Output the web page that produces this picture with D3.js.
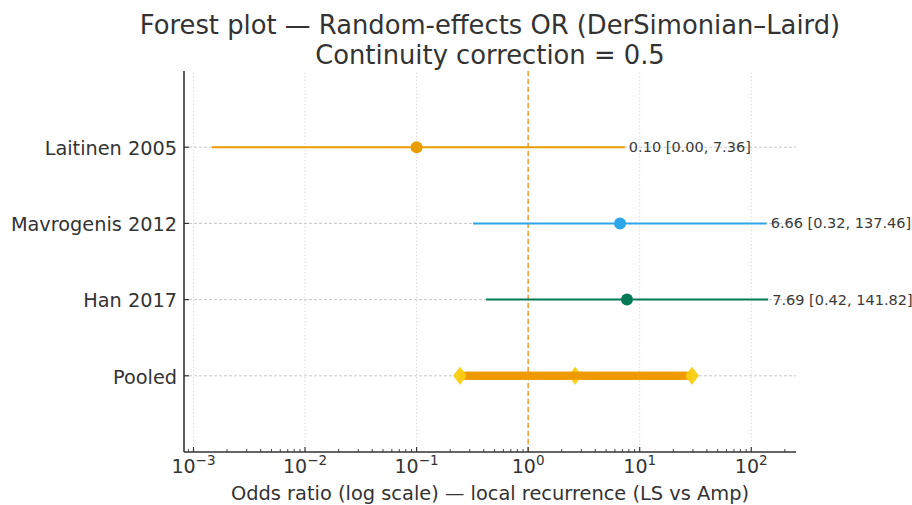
<!DOCTYPE html>
<html>
<head>
<meta charset="utf-8">
<script src="https://cdn.jsdelivr.net/npm/d3@7"></script>
<style>
  html, body { margin: 0; padding: 0; background: #fff; }
  svg { display: block; font-family: "DejaVu Sans", sans-serif; }
</style>
</head>
<body>
<svg id="chart" width="912" height="505"></svg>
<script>
// ---- Data ----
const studies = ["Laitinen 2005", "Mavrogenis 2012", "Han 2017"];
const oddsRatios = [0.10, 6.66, 7.69];
const ciLower = [0.00146, 0.32, 0.42];
const ciUpper = [7.36, 137.46, 141.82];
const studyColors = ["#E99E00", "#2CA6E8", "#007A55"];
const pooledLabel = "Pooled";
const pooledOR = [2.64];
const pooledLower = [0.245];
const pooledUpper = [29.4];
const xTickExponents = [-3, -2, -1, 0, 1, 2];
const titleLines = ["Forest plot \u2014 Random-effects OR (DerSimonian\u2013Laird)", "Continuity correction = 0.5"];
const xAxisLabel = "Odds ratio (log scale) \u2014 local recurrence (LS vs Amp)";

// ---- Layout ----
const W = 912, H = 505;
const m = { left: 184, right: 912 - 796, top: 71, bottom: 505 - 452 };
const svg = d3.select("#chart");
const g = svg.append("g");

// domain: data range with 5% margin in log space
const allLo = ciLower.concat(pooledLower), allHi = ciUpper.concat(pooledUpper);
const lmin = Math.log10(d3.min(allLo)), lmax = Math.log10(d3.max(allHi));
const pad = (lmax - lmin) * 0.05;
const x = d3.scaleLog()
  .domain([Math.pow(10, lmin - pad), Math.pow(10, lmax + pad)])
  .range([m.left, W - m.right]);

const rowLabels = studies.concat([pooledLabel]);
const nRows = rowLabels.length;
const y = d3.scaleLinear().domain([-1, nRows]).range([H - m.bottom, m.top]);
const rowY = (i) => y(nRows - 1 - i);

// ---- Grid ----
g.selectAll(".vgrid").data(xTickExponents).enter().append("line")
  .attr("x1", d => x(Math.pow(10, d))).attr("x2", d => x(Math.pow(10, d)))
  .attr("y1", y(-1)).attr("y2", y(nRows))
  .attr("stroke", "#dcdcdc").attr("stroke-width", 1).attr("stroke-dasharray", "1.5,2");
g.selectAll(".hgrid").data(rowLabels).enter().append("line")
  .attr("x1", m.left).attr("x2", W - m.right)
  .attr("y1", (d, i) => rowY(i)).attr("y2", (d, i) => rowY(i))
  .attr("stroke", "#c8c8c8").attr("stroke-width", 1).attr("stroke-dasharray", "3,2");

// ---- Reference line at OR = 1 ----
g.append("line")
  .attr("x1", x(1)).attr("x2", x(1)).attr("y1", y(-1)).attr("y2", y(nRows))
  .attr("stroke", "#F0A030").attr("stroke-width", 1.5).attr("stroke-dasharray", "5,3");

// ---- Study CIs ----
studies.forEach((s, i) => {
  const yy = rowY(i);
  g.append("line")
    .attr("x1", x(ciLower[i])).attr("x2", x(ciUpper[i]))
    .attr("y1", yy).attr("y2", yy)
    .attr("stroke", studyColors[i]).attr("stroke-width", 2);
  g.append("circle")
    .attr("cx", x(oddsRatios[i])).attr("cy", yy).attr("r", 6)
    .attr("fill", studyColors[i]);
  g.append("text")
    .attr("x", x(ciUpper[i]) + 4).attr("y", yy).attr("dy", "0.35em")
    .attr("font-size", 14.5).attr("fill", "#3a3a3a")
    .text(`${oddsRatios[i].toFixed(2)} [${ciLower[i].toFixed(2)}, ${ciUpper[i].toFixed(2)}]`);
});

// ---- Pooled ----
const py = rowY(nRows - 1);
g.append("line")
  .attr("x1", x(pooledLower[0])).attr("x2", x(pooledUpper[0]))
  .attr("y1", py).attr("y2", py)
  .attr("stroke", "#EE9A00").attr("stroke-width", 8);
const diamond = (cx, cy) => `M${cx - 7},${cy} L${cx},${cy - 9} L${cx + 7},${cy} L${cx},${cy + 9} Z`;
[pooledLower[0], pooledOR[0], pooledUpper[0]].forEach(v => {
  g.append("path").attr("d", diamond(x(v), py)).attr("fill", "#F8CE12").attr("opacity", 0.95);
});
g.append("line")
  .attr("x1", x(pooledLower[0]) + 6).attr("x2", x(pooledUpper[0]) - 6)
  .attr("y1", py).attr("y2", py)
  .attr("stroke", "#EE9A00").attr("stroke-width", 8);

// ---- Axes ----
const xAxis = d3.axisBottom(x)
  .tickValues(xTickExponents.map(e => Math.pow(10, e)))
  .tickSize(0).tickFormat("");
const xg = g.append("g").attr("transform", `translate(0,${H - m.bottom})`).call(xAxis);
xg.select(".domain").remove();
xTickExponents.forEach(e => {
  const xx = x(Math.pow(10, e));
  g.append("line").attr("x1", xx).attr("x2", xx).attr("y1", H - m.bottom).attr("y2", H - m.bottom - 5)
    .attr("stroke", "#333").attr("stroke-width", 1.2);
  const t = g.append("text").attr("x", xx).attr("y", 473).attr("text-anchor", "middle")
    .attr("font-size", 19).attr("fill", "#333");
  t.append("tspan").text("10");
  t.append("tspan").attr("dy", -8).attr("font-size", 13.5).text(e < 0 ? "\u2212" + (-e) : String(e));
});
const [d0, d1] = x.domain();
for (let e = Math.floor(Math.log10(d0)); e <= Math.ceil(Math.log10(d1)); e++) {
  for (let k = 2; k <= 9; k++) {
    const v = k * Math.pow(10, e);
    if (v < d0 || v > d1) continue;
    g.append("line").attr("x1", x(v)).attr("x2", x(v))
      .attr("y1", H - m.bottom).attr("y2", H - m.bottom - 3)
      .attr("stroke", "#333").attr("stroke-width", 0.9);
  }
}
rowLabels.forEach((lab, i) => {
  const yy = rowY(i);
  g.append("line").attr("x1", m.left).attr("x2", m.left + 5).attr("y1", yy).attr("y2", yy)
    .attr("stroke", "#333").attr("stroke-width", 1.2);
  g.append("text").attr("x", 177).attr("y", yy + 1).attr("dy", "0.35em").attr("text-anchor", "end")
    .attr("font-size", 19.3).attr("fill", "#333").text(lab);
});
g.append("line").attr("x1", m.left).attr("x2", m.left).attr("y1", m.top).attr("y2", H - m.bottom)
  .attr("stroke", "#333").attr("stroke-width", 1.6);
g.append("line").attr("x1", m.left).attr("x2", W - m.right).attr("y1", H - m.bottom).attr("y2", H - m.bottom)
  .attr("stroke", "#333").attr("stroke-width", 1.6);

// axis label
g.append("text").attr("x", (m.left + W - m.right) / 2).attr("y", 500).attr("text-anchor", "middle")
  .attr("font-size", 19.4).attr("fill", "#333").text(xAxisLabel);

// title
titleLines.forEach((t, i) => {
  g.append("text").attr("x", (m.left + W - m.right) / 2).attr("y", 34 + i * 30)
    .attr("text-anchor", "middle").attr("font-size", 25.8).attr("fill", "#333").text(t);
});
</script>
</body>
</html>
